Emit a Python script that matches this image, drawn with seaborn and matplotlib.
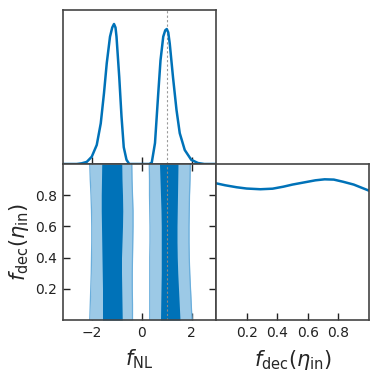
import numpy as np
import pandas as pd
import matplotlib
matplotlib.use("Agg")
import matplotlib.pyplot as plt
import seaborn as sns

# ---- data ----
fnl_x = [-3.2, -2.6, -2.4, -2.2, -2.0, -1.8, -1.64, -1.51, -1.40, -1.27, -1.18, -1.11,
         -1.05, -1.01, -0.90, -0.81, -0.72, -0.61, -0.50, -0.3, 0.0, 0.3, 0.40, 0.53,
         0.66, 0.75, 0.86, 0.94, 1.0, 1.06, 1.12, 1.25, 1.39, 1.52, 1.72, 1.98, 2.25,
         2.5, 3.0]
fnl_density = [0.0, 0.0, 0.005, 0.015, 0.052, 0.136, 0.29, 0.507, 0.72, 0.909, 0.975, 1.0,
               0.975, 0.91, 0.62, 0.34, 0.12, 0.03, 0.0, 0.0, 0.0, 0.0, 0.01, 0.15,
               0.505, 0.74, 0.91, 0.955, 0.964, 0.94, 0.86, 0.62, 0.386, 0.22, 0.10, 0.03,
               0.007, 0.0, 0.0]

fdec_x = [0.0, 0.06, 0.135, 0.2, 0.29, 0.37, 0.44, 0.5, 0.59, 0.65, 0.71, 0.77, 0.83, 0.9, 1.0]
fdec_density = [0.964, 0.95, 0.936, 0.927, 0.922, 0.926, 0.940, 0.955, 0.973, 0.985, 0.992,
                0.99, 0.975, 0.955, 0.912]

contour_y = [0.0, 0.1, 0.2, 0.3, 0.4, 0.5, 0.6, 0.7, 0.8, 0.9, 1.0]
# left mode
outer_lo_1 = [-2.08, -2.06, -2.04, -2.02, -2.01, -2.00, -2.00, -2.01, -2.03, -2.06, -2.08]
inner_lo_1 = [-1.57, -1.57, -1.57, -1.58, -1.59, -1.60, -1.61, -1.62, -1.62, -1.61, -1.60]
inner_hi_1 = [-0.78, -0.79, -0.80, -0.81, -0.81, -0.79, -0.77, -0.76, -0.77, -0.79, -0.80]
outer_hi_1 = [-0.37, -0.37, -0.38, -0.38, -0.37, -0.36, -0.35, -0.35, -0.37, -0.39, -0.40]
# right mode
outer_lo_2 = [0.32, 0.32, 0.32, 0.32, 0.32, 0.33, 0.33, 0.32, 0.31, 0.31, 0.30]
inner_lo_2 = [0.75, 0.76, 0.77, 0.78, 0.78, 0.78, 0.78, 0.77, 0.75, 0.73, 0.71]
inner_hi_2 = [1.53, 1.50, 1.47, 1.44, 1.42, 1.41, 1.41, 1.42, 1.43, 1.44, 1.45]
outer_hi_2 = [2.01, 1.98, 1.95, 1.92, 1.90, 1.89, 1.89, 1.90, 1.91, 1.93, 1.94]

fnl_true = 1.0
fnl_ticks = [-2, 0, 2]
fdec_ticks = [0.2, 0.4, 0.6, 0.8]

# ---- style ----
sns.set_style("ticks")
plt.rcParams['font.family'] = ['DejaVu Sans']
plt.rcParams['mathtext.fontset'] = 'dejavusans'

dark = '#0072B8'
light = '#9CC9E6'
edge = '#6AAEDC'
spine_c = '#444444'

fig = plt.figure(figsize=(3.79, 3.80), dpi=100)
W = 153 / 379
ax_top = fig.add_axes([63 / 379, 1 - 164 / 380, W, 154 / 380])
ax_2d = fig.add_axes([63 / 379, 1 - 320 / 380, W, 156 / 380])
ax_r = fig.add_axes([216 / 379, 1 - 320 / 380, W, 156 / 380])

xlim = (-3.15, 2.97)

# top: 1D marginal of f_NL
df1 = pd.DataFrame({'x': fnl_x, 'p': fnl_density})
sns.lineplot(data=df1, x='x', y='p', ax=ax_top, color=dark, lw=1.8, sort=False)
ax_top.axvline(fnl_true, color='#999999', ls='--', lw=0.8, dashes=(2, 2), zorder=0)
ax_top.set_xlim(xlim)
ax_top.set_ylim(0, 1.1)
ax_top.set_yticks([])
ax_top.set_xticks(fnl_ticks)
ax_top.set_xticklabels([])
ax_top.set_xlabel('')
ax_top.set_ylabel('')
ax_top.tick_params(axis='x', direction='in', length=5, width=1, color='#222222')

# 2D contours
for lo_o, lo_i, hi_i, hi_o in [(outer_lo_1, inner_lo_1, inner_hi_1, outer_hi_1),
                              (outer_lo_2, inner_lo_2, inner_hi_2, outer_hi_2)]:
    ax_2d.fill_betweenx(contour_y, lo_o, hi_o, color=light, lw=0, zorder=6)
    ax_2d.fill_betweenx(contour_y, lo_i, hi_i, color=dark, lw=0, zorder=7)
    for b in (lo_o, hi_o):
        ax_2d.plot(b, contour_y, color=edge, lw=0.9, zorder=7)
ax_2d.axvline(fnl_true, color='#888888', ls='--', lw=0.8, dashes=(2, 2), zorder=8)
ax_2d.set_xlim(xlim)
ax_2d.set_ylim(0, 1.0)
ax_2d.set_xticks(fnl_ticks)
ax_2d.set_xticklabels(['\u22122', '0', '2'])
ax_2d.set_yticks(fdec_ticks)
ax_2d.set_yticklabels(['0.2', '0.4', '0.6', '0.8'])
ax_2d.tick_params(direction='in', length=5, width=1, color='#222222', labelsize=10,
                  top=True, right=True, labelcolor='#222222', pad=4)
ax_2d.set_xlabel(r'$f_{\rm NL}$', fontsize=15, labelpad=6)
ax_2d.set_ylabel(r'$f_{\rm dec}(\eta_{\rm in})$', fontsize=15, labelpad=3)

# right: 1D marginal of f_dec
df2 = pd.DataFrame({'x': fdec_x, 'p': fdec_density})
sns.lineplot(data=df2, x='x', y='p', ax=ax_r, color=dark, lw=1.8, sort=False)
ax_r.set_xlim(0, 1.0)
ax_r.set_ylim(0, 1.1)
ax_r.set_yticks([])
ax_r.set_xticks(fdec_ticks)
ax_r.set_xticklabels(['0.2', '0.4', '0.6', '0.8'])
ax_r.set_ylabel('')
ax_r.tick_params(axis='x', direction='in', length=5, width=1, color='#222222', labelsize=10,
                 labelcolor='#222222', pad=4)
ax_r.set_xlabel(r'$f_{\rm dec}(\eta_{\rm in})$', fontsize=15, labelpad=6)

for a in (ax_top, ax_2d, ax_r):
    for s in a.spines.values():
        s.set_visible(True)
        s.set_color(spine_c)
        s.set_linewidth(1.2)
        s.set_zorder(10)

fig.savefig('out.png', dpi=100)
